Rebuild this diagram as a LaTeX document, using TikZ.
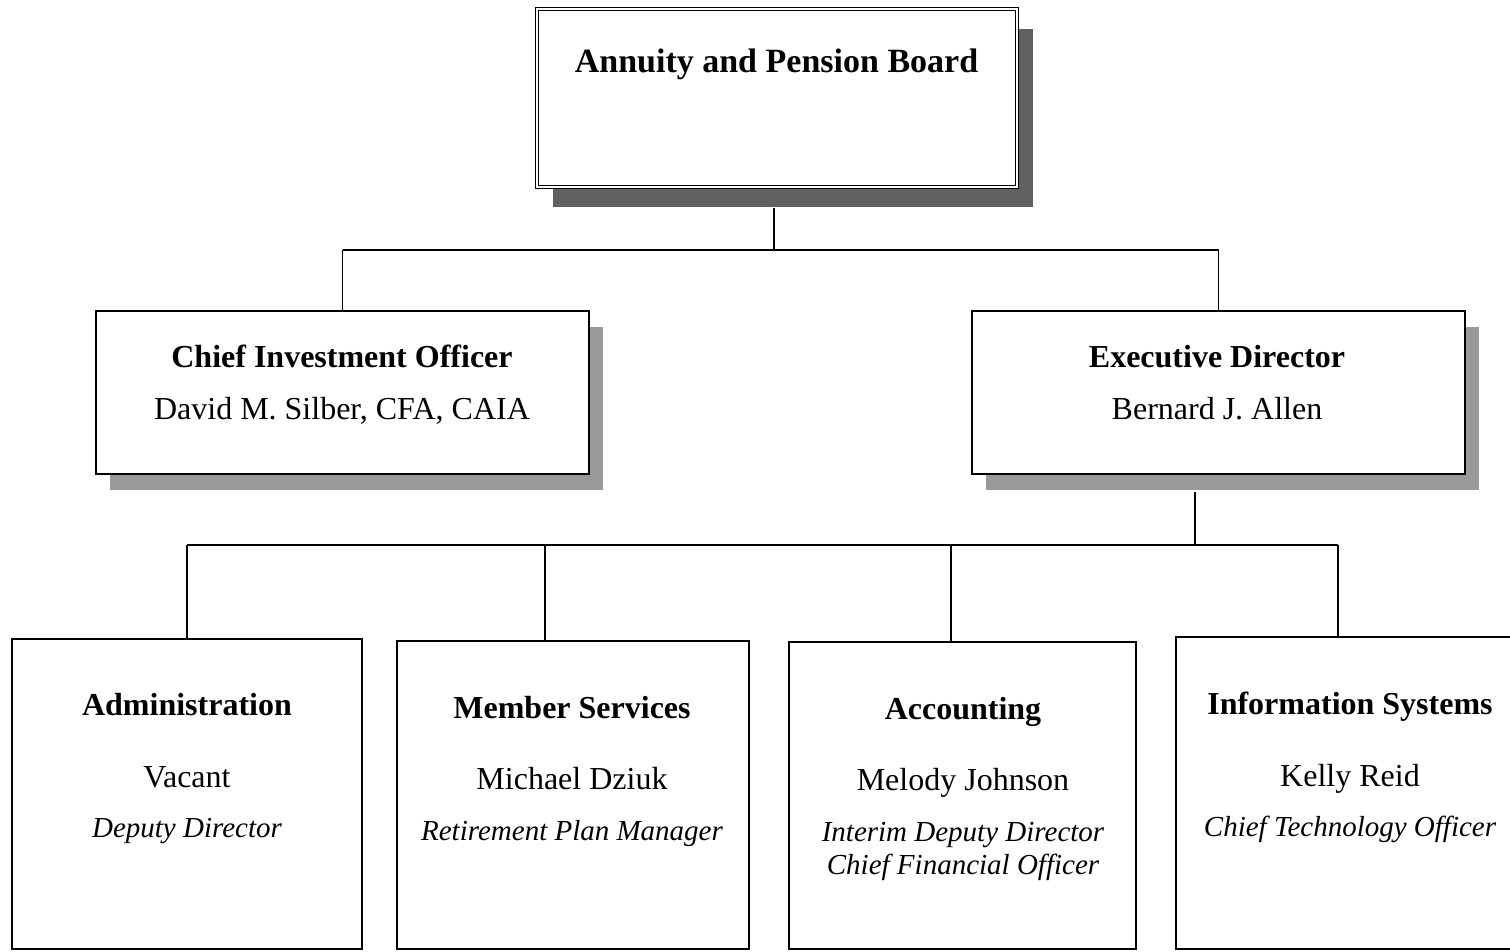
\documentclass[tikz,border=0pt]{standalone}
\usepackage{fontspec}
\setmainfont{Liberation Serif}
\usetikzlibrary{calc,shadows}
\begin{document}
\begin{tikzpicture}[x=1pt,y=-1pt,
  box/.style={draw=black,line width=1.6pt,fill=white,rectangle,inner sep=0pt},
  shadowbig/.style={drop shadow={shadow xshift=16pt,shadow yshift=-20pt,fill=black!62,opacity=1}},
  shadowmid/.style={drop shadow={shadow xshift=14pt,shadow yshift=-16pt,fill=black!40,opacity=1}},
  conn/.style={draw=black,line width=1.5pt},
  hdbig/.style={anchor=base,inner sep=0pt,font=\fontsize{34}{40}\selectfont\bfseries},
  hd/.style={anchor=base,inner sep=0pt,font=\fontsize{32}{38}\selectfont\bfseries},
  nm/.style={anchor=base,inner sep=0pt,font=\fontsize{32}{38}\selectfont},
  ttl/.style={anchor=base,inner sep=0pt,font=\fontsize{29}{34}\selectfont\itshape}]
\useasboundingbox (0,0) rectangle (1510,951);

% boxes
\node[box,shadowbig,double=white,double distance=2.4pt,line width=1.1pt,
      minimum width=480pt,minimum height=178pt] (top) at (777,98) {};
\node[box,shadowmid,minimum width=493pt,minimum height=163pt] (cio) at (342.5,392.5) {};
\node[box,shadowmid,minimum width=493pt,minimum height=163pt] (ed) at (1218.5,392.5) {};
\node[box,minimum width=350pt,minimum height=310pt] (adm) at (187,794) {};
\node[box,minimum width=352pt,minimum height=308pt] (ms) at (573,795) {};
\node[box,minimum width=347pt,minimum height=307pt] (acc) at (962.5,795.5) {};
\node[box,minimum width=348pt,minimum height=312pt] (info) at (1350,793) {};

% connector taps (below the shadows, and off-centre on the lower boxes)
\coordinate (busA) at (0,250);
\coordinate (busB) at (0,545);
\coordinate (topTap) at ($(top.south)+(-3,20)$);
\coordinate (edTap)  at ($(ed.south)+(-23.5,17)$);
\coordinate (msTap)  at ($(ms.north)+(-28,0)$);
\coordinate (accTap) at ($(acc.north)+(-11.5,0)$);
\coordinate (infoTap) at ($(info.north)+(-12,0)$);

% connectors
\draw[conn] (topTap) -- (topTap |- busA);
\draw[conn] (cio.north |- busA) -- (ed.north |- busA);
\draw[conn] (cio.north |- busA) -- (cio.north);
\draw[conn] (ed.north |- busA) -- (ed.north);
\draw[conn] (edTap) -- (edTap |- busB);
\draw[conn] (adm.north |- busB) -- (infoTap |- busB);
\draw[conn] (adm.north |- busB) -- (adm.north);
\draw[conn] (msTap |- busB) -- (msTap);
\draw[conn] (accTap |- busB) -- (accTap);
\draw[conn] (infoTap |- busB) -- (infoTap);

% texts
\node[hdbig] (tTop) at (776.5,72) {Annuity and Pension Board};

\node[hd] (tCio) at (342,367) {Chief Investment Officer};
\node[nm] (nCio) at (342,419) {David M. Silber, CFA, CAIA};

\node[hd] (tEd) at (1217,367) {Executive Director};
\node[nm] (nEd) at (1217,419) {Bernard J. Allen};

\node[hd] (tAdm) at (187,715) {Administration};
\node[nm] (nAdm) at (187,787) {Vacant};
\node[ttl] (pAdm) at (187,837) {Deputy Director};

\node[hd] (tMs) at (572,718) {Member Services};
\node[nm] (nMs) at (572,789) {Michael Dziuk};
\node[ttl] (pMs) at (572,840) {Retirement Plan Manager};

\node[hd] (tAcc) at (963,719) {Accounting};
\node[nm] (nAcc) at (963,790) {Melody Johnson};
\node[ttl] (pAcc) at (963,841) {Interim Deputy Director};
\node[ttl] (qAcc) at (963,874) {Chief Financial Officer};

\node[hd] (tInfo) at (1350,714) {Information Systems};
\node[nm] (nInfo) at (1350,786) {Kelly Reid};
\node[ttl] (pInfo) at (1350,836) {Chief Technology Officer};
\end{tikzpicture}
\end{document}
